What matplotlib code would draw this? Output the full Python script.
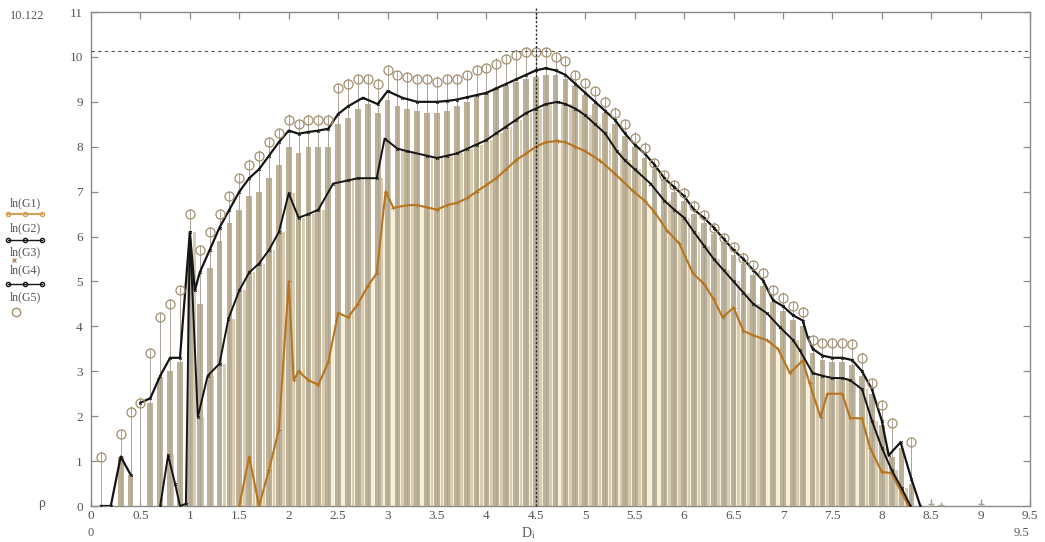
import numpy as np
import matplotlib
matplotlib.use("Agg")
import matplotlib.pyplot as plt
from matplotlib.lines import Line2D

plt.rcParams['font.family'] = ['Liberation Serif', 'DejaVu Serif']
plt.rcParams['mathtext.fontset'] = 'stix'

# ---- data ----
# ln(G5): circles on stems
g5_x = [0.1, 0.3, 0.4, 0.5, 0.6, 0.7, 0.8, 0.9, 1.0, 1.1, 1.2, 1.3, 1.4, 1.5, 1.6, 1.7, 1.8, 1.9,
        2.0, 2.1, 2.2, 2.3, 2.4, 2.5, 2.6, 2.7, 2.8, 2.9, 3.0, 3.1, 3.2, 3.3, 3.4, 3.5, 3.6, 3.7,
        3.8, 3.9, 4.0, 4.1, 4.2, 4.3, 4.4, 4.5, 4.6, 4.7, 4.8, 4.9, 5.0, 5.1, 5.2, 5.3, 5.4, 5.5,
        5.6, 5.7, 5.8, 5.9, 6.0, 6.1, 6.2, 6.3, 6.4, 6.5, 6.6, 6.7, 6.8, 6.9, 7.0, 7.1, 7.2, 7.3,
        7.4, 7.5, 7.6, 7.7, 7.8, 7.9, 8.0, 8.1, 8.3]
g5_y = [1.1, 1.6, 2.1, 2.3, 3.4, 4.2, 4.5, 4.8, 6.5, 5.7, 6.1, 6.5, 6.9, 7.3, 7.6, 7.8, 8.1, 8.3,
        8.6, 8.5, 8.6, 8.6, 8.6, 9.3, 9.4, 9.5, 9.5, 9.4, 9.7, 9.6, 9.55, 9.5, 9.5, 9.45, 9.5, 9.5,
        9.6, 9.7, 9.75, 9.85, 9.95, 10.05, 10.1, 10.12, 10.1, 10.0, 9.9, 9.6, 9.42, 9.24, 9.0, 8.76, 8.5, 8.2,
        7.98, 7.64, 7.36, 7.15, 6.98, 6.69, 6.47, 6.2, 5.96, 5.76, 5.53, 5.36, 5.18, 4.8, 4.64, 4.45, 4.31, 3.69,
        3.62, 3.62, 3.62, 3.6, 3.3, 2.73, 2.24, 1.84, 1.42]
tail_x = [8.5, 8.6, 9.0]
tail_y = [0.05, 0.03, 0.05]

# ln(G3): bars
bar_x = [0.3, 0.4, 0.6, 0.7, 0.8, 0.9, 1.0, 1.1, 1.2, 1.3, 1.4, 1.5, 1.6, 1.7, 1.8, 1.9,
         2.0, 2.1, 2.2, 2.3, 2.4, 2.5, 2.6, 2.7, 2.8, 2.9, 3.0, 3.1, 3.2, 3.3, 3.4, 3.5, 3.6, 3.7,
         3.8, 3.9, 4.0, 4.1, 4.2, 4.3, 4.4, 4.5, 4.6, 4.7, 4.8, 4.9, 5.0, 5.1, 5.2, 5.3, 5.4, 5.5,
         5.6, 5.7, 5.8, 5.9, 6.0, 6.1, 6.2, 6.3, 6.4, 6.5, 6.6, 6.7, 6.8, 6.9, 7.0, 7.1, 7.2, 7.3,
         7.4, 7.5, 7.6, 7.7, 7.8, 7.9, 8.0, 8.1, 8.2, 8.3]
bar_y = [1.1, 0.7, 2.3, 2.85, 3.0, 3.2, 5.5, 4.5, 5.3, 5.9, 6.3, 6.6, 6.9, 7.0, 7.3, 7.6,
         8.0, 7.85, 8.0, 8.0, 8.0, 8.5, 8.65, 8.85, 8.95, 8.75, 9.05, 8.9, 8.85, 8.8, 8.75, 8.75, 8.8, 8.9,
         9.0, 9.1, 9.2, 9.3, 9.35, 9.45, 9.5, 9.55, 9.6, 9.6, 9.5, 9.35, 9.15, 8.95, 8.75, 8.5, 8.25, 8.0,
         7.75, 7.5, 7.25, 7.0, 6.8, 6.5, 6.3, 6.05, 5.85, 5.6, 5.4, 5.15, 4.9, 4.55, 4.35, 4.15, 4.0, 3.4,
         3.25, 3.2, 3.2, 3.15, 2.9, 2.5, 1.8, 1.1, 1.3, 0.5]

# ln(G4): upper black line (nan = break)
g4_x = [0.1, 0.2, 0.3, 0.4, 0.45, 0.5, 0.6, 0.7, 0.8, 0.9, 1.0, 1.05, 1.1, 1.2, 1.3, 1.4, 1.5, 1.6,
        1.7, 1.8, 1.9, 2.0, 2.1, 2.2, 2.3, 2.4, 2.5, 2.6, 2.75, 2.9, 3.0, 3.15, 3.3, 3.5, 3.6, 3.7,
        3.8, 3.9, 4.0, 4.1, 4.2, 4.3, 4.4, 4.5, 4.6, 4.7, 4.8, 4.9, 5.0, 5.1, 5.2, 5.3, 5.4, 5.5,
        5.6, 5.7, 5.8, 5.9, 6.0, 6.1, 6.2, 6.3, 6.4, 6.5, 6.6, 6.7, 6.8, 6.9, 7.0, 7.1, 7.2, 7.25,
        7.3, 7.4, 7.5, 7.6, 7.7, 7.8, 7.9, 8.0, 8.07, 8.19, 8.3, 8.39]
g4_y = [0.0, 0.0, 1.1, 0.7, np.nan, 2.3, 2.4, 2.9, 3.3, 3.3, 6.1, 4.8, 5.2, 5.7, 6.2, 6.6, 7.0, 7.3,
        7.5, 7.8, 8.1, 8.36, 8.29, 8.33, 8.36, 8.4, 8.73, 8.9, 9.09, 8.95, 9.24, 9.09, 9.0, 9.0, 9.02, 9.05,
        9.1, 9.15, 9.2, 9.3, 9.4, 9.5, 9.6, 9.7, 9.75, 9.7, 9.6, 9.4, 9.2, 9.0, 8.8, 8.6, 8.3, 8.05,
        7.85, 7.6, 7.3, 7.1, 6.9, 6.6, 6.42, 6.2, 5.95, 5.7, 5.5, 5.25, 5.02, 4.58, 4.45, 4.25, 4.13, 3.76,
        3.5, 3.35, 3.3, 3.3, 3.25, 3.0, 2.6, 1.9, 1.13, 1.42, 0.6, 0.0]

# ln(G2): middle black line
g2_x = [0.7, 0.78, 0.85, 0.9, 0.96, 1.0, 1.08, 1.18, 1.3, 1.39, 1.5, 1.6, 1.7, 1.8, 1.9, 2.0, 2.1,
        2.2, 2.3, 2.45, 2.6, 2.7, 2.89, 2.97, 3.1, 3.2, 3.4, 3.5, 3.6, 3.7, 3.8, 3.9, 4.0, 4.1, 4.2,
        4.3, 4.4, 4.5, 4.6, 4.72, 4.8, 4.9, 5.0, 5.1, 5.2, 5.32, 5.4, 5.5, 5.66, 5.8, 5.9, 6.0, 6.1,
        6.2, 6.3, 6.4, 6.5, 6.6, 6.7, 6.84, 6.97, 7.1, 7.17, 7.3, 7.4, 7.5, 7.6, 7.68, 7.8, 7.9, 8.0,
        8.1, 8.2, 8.29]
g2_y = [0.0, 1.13, 0.5, 0.0, 0.05, 6.1, 1.98, 2.9, 3.17, 4.17, 4.8, 5.2, 5.4, 5.7, 6.1, 6.96, 6.42,
        6.5, 6.6, 7.18, 7.25, 7.3, 7.3, 8.18, 7.96, 7.9, 7.8, 7.75, 7.8, 7.85, 7.95, 8.05, 8.15, 8.3, 8.45,
        8.6, 8.75, 8.85, 8.95, 9.0, 8.95, 8.85, 8.7, 8.5, 8.3, 7.9, 7.7, 7.5, 7.18, 6.8, 6.6, 6.42, 6.1,
        5.8, 5.5, 5.25, 5.0, 4.75, 4.5, 4.29, 3.98, 3.7, 3.47, 2.96, 2.9, 2.85, 2.85, 2.8, 2.6, 1.9, 1.3,
        0.8, 0.4, 0.0]

# ln(G1): orange line
g1_x = [1.5, 1.6, 1.7, 1.8, 1.9, 2.0, 2.05, 2.1, 2.2, 2.3, 2.4, 2.5, 2.6, 2.7, 2.8, 2.89, 2.98,
        3.06, 3.2, 3.3, 3.4, 3.5, 3.6, 3.7, 3.8, 3.9, 4.0, 4.1, 4.2, 4.3, 4.4, 4.5, 4.6, 4.72, 4.8,
        4.9, 5.0, 5.15, 5.3, 5.48, 5.6, 5.7, 5.83, 5.95, 6.09, 6.2, 6.3, 6.39, 6.5, 6.6, 6.7, 6.84,
        6.95, 7.07, 7.2, 7.27, 7.38, 7.45, 7.6, 7.68, 7.8, 7.88, 8.0, 8.1, 8.2, 8.27]
g1_y = [0.0, 1.1, 0.0, 0.8, 1.7, 5.0, 2.8, 3.0, 2.8, 2.7, 3.2, 4.3, 4.2, 4.5, 4.9, 5.18, 7.0,
        6.64, 6.7, 6.7, 6.65, 6.6, 6.7, 6.75, 6.85, 7.0, 7.15, 7.3, 7.5, 7.7, 7.85, 8.0, 8.1, 8.13, 8.1,
        8.0, 7.9, 7.69, 7.4, 7.02, 6.8, 6.55, 6.13, 5.85, 5.18, 4.95, 4.6, 4.2, 4.42, 3.9, 3.8, 3.69,
        3.5, 2.96, 3.24, 2.73, 1.98, 2.5, 2.5, 1.96, 1.95, 1.3, 0.76, 0.73, 0.3, 0.0]

x_ticks = [0, 0.5, 1, 1.5, 2, 2.5, 3, 3.5, 4, 4.5, 5, 5.5, 6, 6.5, 7, 7.5, 8, 8.5, 9, 9.5]
x_tick_labels = ['0', '0.5', '1', '1.5', '2', '2.5', '3', '3.5', '4', '4.5', '5', '5.5', '6',
                 '6.5', '7', '7.5', '8', '8.5', '9', '9.5']
y_ticks = [0, 1, 2, 3, 4, 5, 6, 7, 8, 9, 10, 11]
y_tick_labels = ['0', '1', '2', '3', '4', '5', '6', '7', '8', '9', '10', '11']
ref_level = 10.122
ref_x = 4.5
legend_labels = ['ln(G1)', 'ln(G2)', 'ln(G3)', 'ln(G4)', 'ln(G5)']

# ---- colours ----
c_orange = '#b8741e'
c_black = '#151515'
c_bar = '#bcb096'
c_bar2 = '#d8cdb2'
c_cream = '#f6f0da'
c_stem = '#aaa497'
c_circle = '#a48f6c'
c_text = '#555555'
c_spine = '#8a8a8a'

fig = plt.figure(figsize=(10.45, 5.42), dpi=100)
ax = fig.add_axes([0.0871, 0.0664, 0.8986, 0.9114])

# cream background under the orange curve
ax.fill_between(g1_x, 0, g1_y, color=c_cream, lw=0, zorder=1)
# lighter in-between bars
ax.bar(np.array(g2_x) + 0.05, g2_y, width=0.028, color=c_bar2, lw=0, zorder=2)
# main bars
ax.bar(bar_x, bar_y, width=0.058, color=c_bar, lw=0, zorder=3)
# stems + circles
ax.vlines(g5_x, 0, np.array(g5_y) + 0.12, color=c_stem, lw=0.7, zorder=4)
ax.plot(g5_x, g5_y, 'o', ms=6.5, mfc='none', mec=c_circle, mew=0.9, zorder=7)
ax.plot(tail_x, tail_y, '+', ms=5, color=c_stem, zorder=7)

# lines
ax.plot(g1_x, g1_y, '-', color=c_orange, lw=1.5, marker='+', ms=3, mew=0.7, zorder=5)
ax.plot(g2_x, g2_y, '-', color=c_black, lw=1.4, marker='x', ms=2, mew=0.6, zorder=6)
ax.plot(g4_x, g4_y, '-', color=c_black, lw=1.6, marker='x', ms=2, mew=0.6, zorder=6)

# reference lines
ax.axhline(ref_level, ls=(0, (3, 3)), color='#555555', lw=0.8, zorder=8)
ax.plot([ref_x, ref_x], [0, 11.1], ls=(0, (1.5, 1.5)), color='#222222', lw=1.0,
        clip_on=False, zorder=8)

ax.set_xlim(0, 9.5)
ax.set_ylim(0, 11)
ax.set_xticks(x_ticks)
ax.set_xticklabels(x_tick_labels)
ax.set_yticks(y_ticks)
ax.set_yticklabels(y_tick_labels)
ax.tick_params(axis='both', direction='in', length=5, width=0.9, color=c_spine,
               labelcolor=c_text, labelsize=9.5, top=True, right=True)
ax.tick_params(axis='x', pad=3)
ax.tick_params(axis='y', pad=6)
for s in ax.spines.values():
    s.set_color(c_spine)
    s.set_linewidth(1.0)

# extra labels
W, H = 1045.0, 542.0
fig.text(10 / W, 1 - 16 / H, '10.122', fontsize=9, color=c_text, va='center')
fig.text(38 / W, 1 - 503 / H, 'ρ', fontsize=10, color=c_text, va='center')
fig.text(91 / W, 1 - 533 / H, '0', fontsize=9, color=c_text, va='center', ha='center')
fig.text(1022 / W, 1 - 533 / H, '9.5', fontsize=9, color=c_text, va='center', ha='center')
fig.text(528 / W, 1 - 533 / H, r'D$_{\mathrm{i}}$', fontsize=10, color=c_text,
         va='center', ha='center')

# legend on the left (label above its sample)
text_y = [203, 228, 252, 270, 297]
samp_y = [214, 240, 260, 284, 312]
for lab, ty in zip(legend_labels, text_y):
    fig.text(10 / W, 1 - ty / H, lab, fontsize=8.5, color=c_text, va='center')
fig.add_artist(Line2D([8 / W, 25 / W, 42 / W], [1 - samp_y[0] / H] * 3, color='#d4a055', lw=1.5,
                      marker='o', ms=3, mfc='none', transform=fig.transFigure))
fig.add_artist(Line2D([8 / W, 25 / W, 42 / W], [1 - samp_y[1] / H] * 3, color=c_black, lw=1.0,
                      marker='o', ms=3, mfc='none', transform=fig.transFigure))
fig.add_artist(Line2D([14 / W], [1 - samp_y[2] / H], color='#b09060', marker='x', ms=3,
                      lw=0, transform=fig.transFigure))
fig.add_artist(Line2D([8 / W, 25 / W, 42 / W], [1 - samp_y[3] / H] * 3, color=c_black, lw=1.0,
                      marker='o', ms=3, mfc='none', transform=fig.transFigure))
fig.add_artist(Line2D([16 / W], [1 - samp_y[4] / H], color=c_circle, marker='o', ms=6,
                      mfc='none', lw=0, transform=fig.transFigure))

fig.savefig('out.png', dpi=100)
